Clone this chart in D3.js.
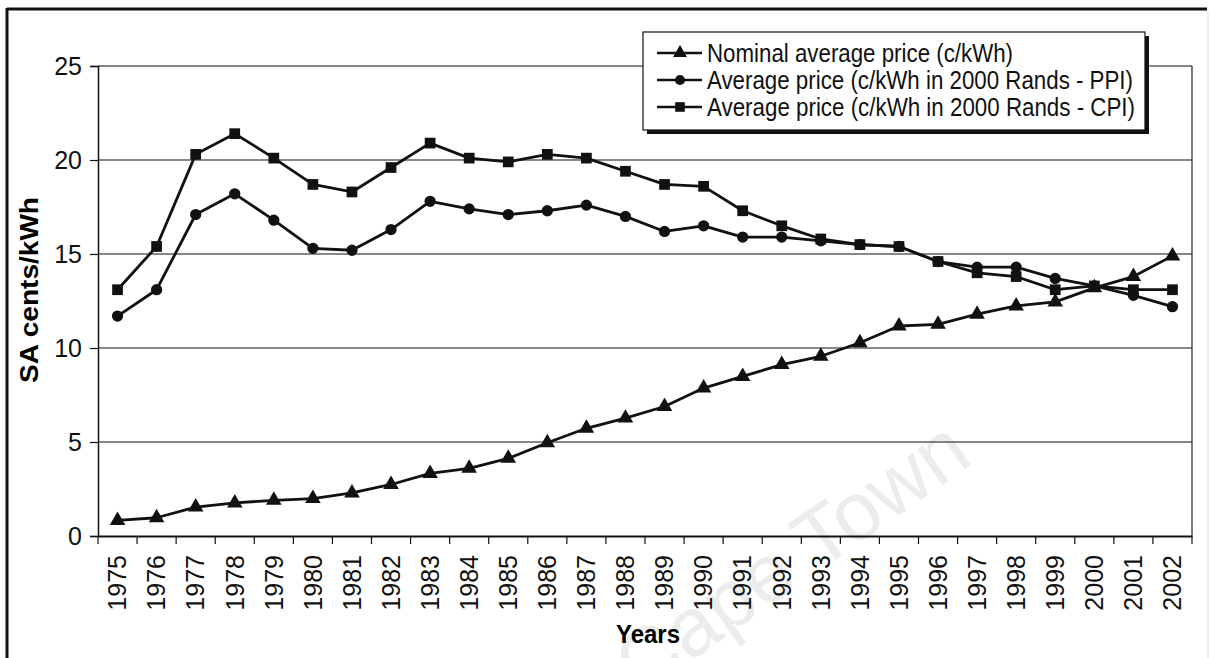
<!DOCTYPE html>
<html>
<head>
<meta charset="utf-8">
<script src="https://cdn.jsdelivr.net/npm/d3@7"></script>
<style>
  body { margin: 0; background: #fff; }
  svg { display: block; font-family: Arial, "Liberation Sans", sans-serif; }
</style>
</head>
<body>
<svg id="chart" width="1210" height="658"></svg>
<script>
// data
const years = ['1975','1976','1977','1978','1979','1980','1981','1982','1983','1984',
  '1985','1986','1987','1988','1989','1990','1991','1992','1993','1994',
  '1995','1996','1997','1998','1999','2000','2001','2002'];
const nominal = [0.83, 0.97, 1.54, 1.76, 1.9, 1.99, 2.29, 2.74, 3.33, 3.6,
  4.13, 4.96, 5.73, 6.27, 6.89, 7.87, 8.49, 9.12, 9.56, 10.28,
  11.17, 11.26, 11.8, 12.24, 12.45, 13.2, 13.8, 14.9];
const ppi = [11.7, 13.1, 17.1, 18.2, 16.8, 15.3, 15.2, 16.3, 17.8, 17.4,
  17.1, 17.3, 17.6, 17.0, 16.2, 16.5, 15.9, 15.9, 15.7, 15.5,
  15.4, 14.6, 14.3, 14.3, 13.7, 13.3, 12.8, 12.2];
const cpi = [13.1, 15.4, 20.3, 21.4, 20.1, 18.7, 18.3, 19.6, 20.9, 20.1,
  19.9, 20.3, 20.1, 19.4, 18.7, 18.6, 17.3, 16.5, 15.8, 15.5,
  15.4, 14.6, 14.0, 13.8, 13.1, 13.3, 13.1, 13.1];
const yTicks = [0, 5, 10, 15, 20, 25];
const seriesNames = ['Nominal average price (c/kWh)',
  'Average price (c/kWh in 2000 Rands - PPI)',
  'Average price (c/kWh in 2000 Rands - CPI)'];

const svg = d3.select('#chart');

const plotLeft = 98, plotRight = 1192, plotTop = 66, plotBottom = 536;

let x = d3.scaleBand().domain(years).range([plotLeft, plotRight]);
let y = d3.scaleLinear().domain([0, 25]).range([plotBottom, plotTop]);

// faint watermark of the scanned thesis page
svg.append('text')
  .attr('transform', 'translate(975,462) rotate(-35)')
  .attr('text-anchor', 'end')
  .style('font-size', '82px')
  .style('fill', '#ececec')
  .text('University of Cape Town');

// outer frame (only left/top survive in the scan)
svg.append('line').attr('x1', 7).attr('x2', 1207).attr('y1', 9).attr('y2', 9)
  .attr('stroke', '#111').attr('stroke-width', 3);
svg.append('line').attr('x1', 7).attr('x2', 7).attr('y1', 8).attr('y2', 658)
  .attr('stroke', '#111').attr('stroke-width', 3);
svg.append('line').attr('x1', 1208).attr('x2', 1208).attr('y1', 10).attr('y2', 658)
  .attr('stroke', '#ddd').attr('stroke-width', 1);

// gridlines
svg.append('g')
  .selectAll('line')
  .data(yTicks.filter(d => d > 0))
  .join('line')
  .attr('x1', plotLeft).attr('x2', plotRight)
  .attr('y1', d => y(d)).attr('y2', d => y(d))
  .attr('stroke', '#111').attr('stroke-width', 1.2);

// right border of plot area
svg.append('line').attr('x1', plotRight).attr('x2', plotRight).attr('y1', plotTop).attr('y2', plotBottom)
  .attr('stroke', '#222').attr('stroke-width', 1.2);

// y axis
let yAxis = svg.append('g')
  .attr('transform', `translate(${plotLeft},0)`)
  .call(d3.axisLeft(y).tickValues(yTicks).tickSize(8).tickPadding(8));
yAxis.select('.domain').attr('stroke', '#111').attr('stroke-width', 1.5);
yAxis.selectAll('line').attr('stroke', '#111').attr('stroke-width', 1.2);
yAxis.selectAll('text').style('font-size', '25px').attr('fill', '#111');

// x axis: ticks between the categories, labels turned on their side
let xAxis = svg.append('g')
  .attr('transform', `translate(0,${plotBottom})`)
  .call(d3.axisBottom(x).tickSize(0).tickPadding(0));
xAxis.select('.domain').attr('stroke', '#111').attr('stroke-width', 2);
xAxis.selectAll('text')
  .style('font-size', '25px')
  .attr('fill', '#111')
  .attr('text-anchor', 'end')
  .attr('dy', '0.35em')
  .attr('transform', 'translate(0,19) rotate(-90)')
  .attr('y', 0).attr('x', 0);

svg.append('g')
  .selectAll('line')
  .data(years.concat(['end']))
  .join('line')
  .attr('x1', d => d === 'end' ? plotRight : x(d))
  .attr('x2', d => d === 'end' ? plotRight : x(d))
  .attr('y1', plotBottom).attr('y2', plotBottom + 8)
  .attr('stroke', '#111').attr('stroke-width', 1.2);

// axis titles
svg.append('text')
  .attr('x', 648).attr('y', 643)
  .attr('text-anchor', 'middle')
  .style('font-size', '25px').style('font-weight', 'bold')
  .attr('textLength', 64).attr('lengthAdjust', 'spacingAndGlyphs')
  .text('Years');

svg.append('text')
  .attr('transform', 'translate(38,290) rotate(-90)')
  .attr('text-anchor', 'middle')
  .style('font-size', '25px').style('font-weight', 'bold')
  .attr('textLength', 186).attr('lengthAdjust', 'spacingAndGlyphs')
  .text('SA cents/kWh');

// series
const cx = d => x(d) + x.bandwidth() / 2;
const series = [
  { name: seriesNames[0], values: nominal, symbol: d3.symbolTriangle, size: 105 },
  { name: seriesNames[1], values: ppi, symbol: d3.symbolCircle, size: 100 },
  { name: seriesNames[2], values: cpi, symbol: d3.symbolSquare, size: 115 }
];

let line = d3.line()
  .x((d, i) => cx(years[i]))
  .y(d => y(d));

series.forEach(s => {
  svg.append('path')
    .datum(s.values)
    .attr('d', line)
    .attr('fill', 'none')
    .attr('stroke', '#111')
    .attr('stroke-width', 2.8)
    .attr('stroke-linejoin', 'round');

  svg.append('g')
    .selectAll('path')
    .data(s.values)
    .join('path')
    .attr('transform', (d, i) => `translate(${cx(years[i])},${y(d)})`)
    .attr('d', d3.symbol().type(s.symbol).size(s.size))
    .attr('fill', '#111');
});

// legend
let legend = svg.append('g');
legend.append('rect')
  .attr('x', 647).attr('y', 36).attr('width', 502).attr('height', 98)
  .attr('fill', '#111');
legend.append('rect')
  .attr('x', 643).attr('y', 32).attr('width', 502).attr('height', 98)
  .attr('fill', '#fff').attr('stroke', '#111').attr('stroke-width', 1.2);

const legendRows = [53, 80, 107];
const legendWidths = [306, 426, 428];
series.forEach((s, i) => {
  legend.append('line')
    .attr('x1', 657).attr('x2', 702)
    .attr('y1', legendRows[i]).attr('y2', legendRows[i])
    .attr('stroke', '#111').attr('stroke-width', 2.4);
  legend.append('path')
    .attr('transform', `translate(680,${legendRows[i]})`)
    .attr('d', d3.symbol().type(s.symbol).size(s.size * 0.8))
    .attr('fill', '#111');
  legend.append('text')
    .attr('x', 707).attr('y', legendRows[i])
    .attr('dy', '0.35em')
    .style('font-size', '25px')
    .attr('fill', '#111')
    .attr('textLength', legendWidths[i]).attr('lengthAdjust', 'spacingAndGlyphs')
    .text(s.name);
});
</script>
</body>
</html>
